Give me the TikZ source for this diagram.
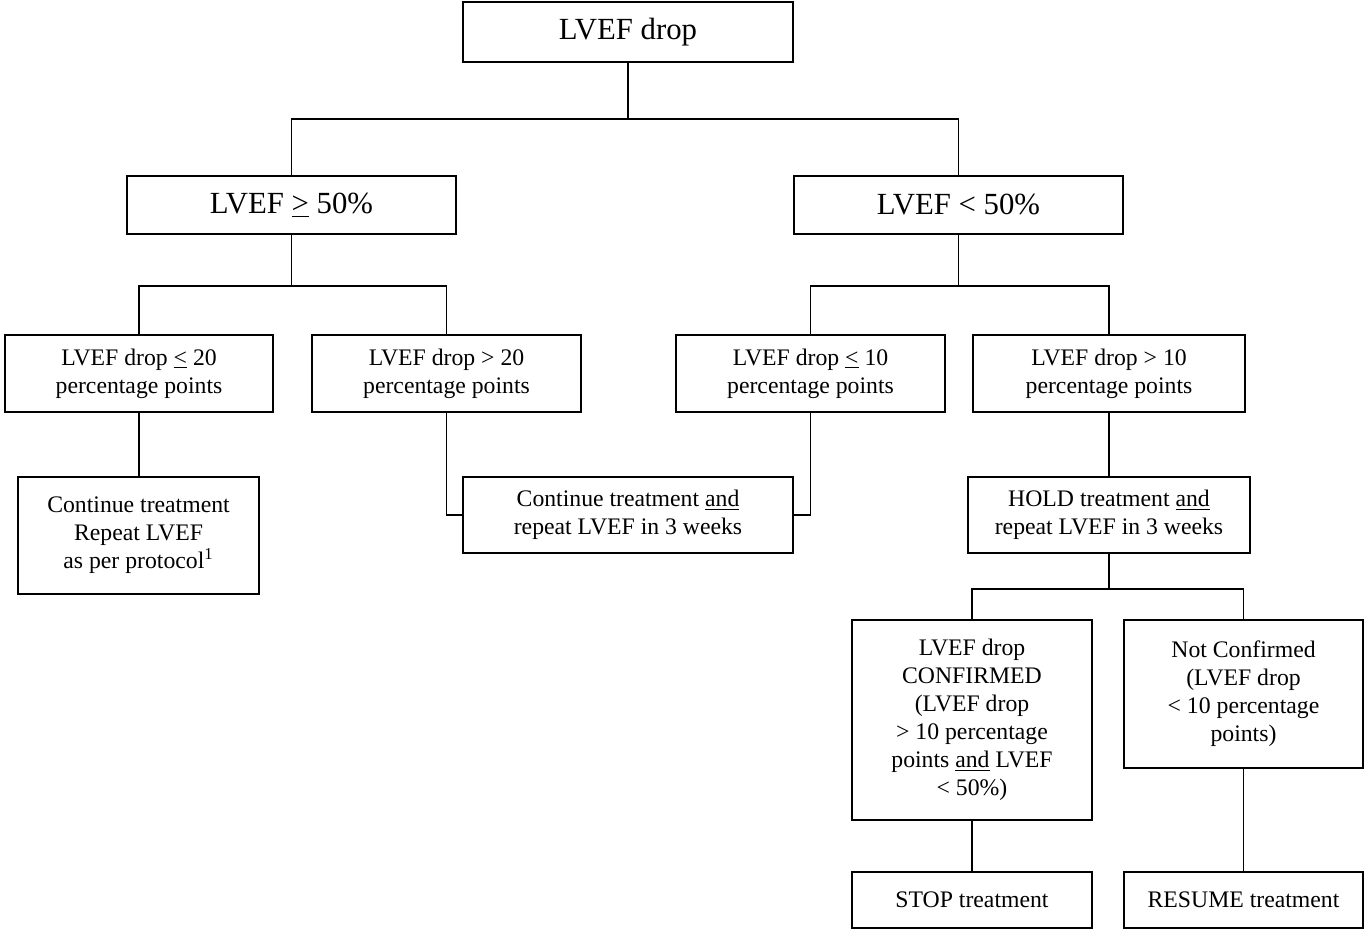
\documentclass[tikz,border=0pt]{standalone}
\usepackage{fontspec}
\setmainfont{Liberation Serif}
\usetikzlibrary{calc}
\begin{document}
\begin{tikzpicture}[x=0.02cm,y=-0.02cm,line width=1pt,
    box/.style={draw,align=center,inner sep=0pt,font=\fontsize{13.5}{15.9}\selectfont},
    bigbox/.style={box,font=\fontsize{17.5}{21}\selectfont}]
  \useasboundingbox (0,0) rectangle (1365,930);
  % levels 1 and 2
  \node[bigbox,minimum width=6.6cm,minimum height=1.2cm] (drop) at (628,32) {LVEF drop};
  \node[bigbox,minimum width=6.58cm,minimum height=1.16cm] (ge) at (291.5,205) {LVEF \underline{>} 50\%};
  \node[bigbox,minimum width=6.58cm,minimum height=1.16cm] (lt) at (958.5,205) {LVEF < 50\%};
  % level 3
  \node[box,minimum width=5.36cm,minimum height=1.54cm] (le20) at (139,373.5) {LVEF drop \underline{<} 20\\percentage points};
  \node[box,minimum width=5.38cm,minimum height=1.54cm] (gt20) at (446.5,373.5) {LVEF drop > 20\\percentage points};
  \node[box,minimum width=5.38cm,minimum height=1.54cm] (le10) at (810.5,373.5) {LVEF drop \underline{<} 10\\percentage points};
  \node[box,minimum width=5.44cm,minimum height=1.54cm] (gt10) at (1109,373.5) {LVEF drop > 10\\percentage points};
  % actions
  \node[box,minimum width=4.82cm,minimum height=2.34cm] (cont) at (138.5,535.5) {Continue treatment\\Repeat LVEF\\as per protocol\textsuperscript{1}};
  \node[box,minimum width=6.6cm,minimum height=1.52cm] (contand) at (628,515) {Continue treatment \underline{and}\\repeat LVEF in 3 weeks};
  \node[box,minimum width=5.64cm,minimum height=1.52cm] (hold) at (1109,515) {HOLD treatment \underline{and}\\repeat LVEF in 3 weeks};
  \node[box,minimum width=4.8cm,minimum height=4cm] (conf) at (972,720) {LVEF drop\\CONFIRMED\\(LVEF drop\\> 10 percentage\\points \underline{and} LVEF\\< 50\%)};
  \node[box,minimum width=4.78cm,minimum height=2.96cm] (notconf) at (1243.5,694) {Not Confirmed\\(LVEF drop\\< 10 percentage\\points)};
  \node[box,minimum width=4.8cm,minimum height=1.12cm] (stop) at (972,900) {STOP treatment};
  \node[box,minimum width=4.78cm,minimum height=1.12cm] (resume) at (1243.5,900) {RESUME treatment};
  % connectors
  \draw (drop.south) -- ++(0,56) coordinate (j1);
  \draw (ge.north) |- (j1) -| (lt.north);
  \draw (ge.south) -- ++(0,51) coordinate (j2);
  \draw (le20.north) |- (j2) -| (gt20.north);
  \draw (lt.south) -- ++(0,51) coordinate (j3);
  \draw (le10.north) |- (j3) -| (gt10.north);
  \draw (le20.south) -- (le20.south |- cont.north);
  \draw (gt20.south) |- (contand.west);
  \draw (le10.south) |- (contand.east);
  \draw (gt10.south) -- (hold.north);
  \draw (hold.south) -- ++(0,35) coordinate (j4);
  \draw (conf.north) |- (j4) -| (notconf.north);
  \draw (conf.south) -- (stop.north);
  \draw (notconf.south) -- (resume.north);
\end{tikzpicture}
\end{document}
